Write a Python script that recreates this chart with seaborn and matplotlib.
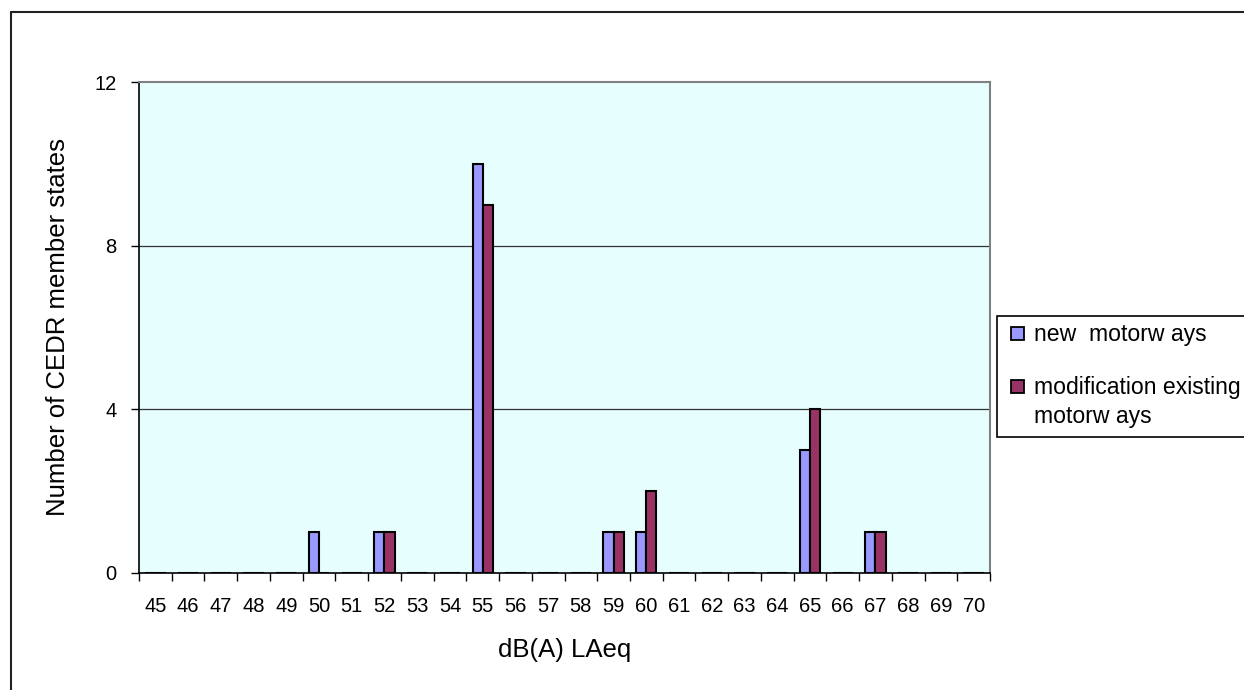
import matplotlib
matplotlib.use("Agg")
import matplotlib.pyplot as plt
import seaborn as sns
import pandas as pd
import numpy as np
from matplotlib.lines import Line2D
from matplotlib.patches import Rectangle

# ---- data ----
categories = [str(v) for v in range(45, 71)]
new_motorways = [0, 0, 0, 0, 0, 1, 0, 1, 0, 0, 10, 0, 0, 0, 1, 1, 0, 0, 0, 0, 3, 0, 1, 0, 0, 0]
modification = [0, 0, 0, 0, 0, 0, 0, 1, 0, 0, 9, 0, 0, 0, 1, 2, 0, 0, 0, 0, 4, 0, 1, 0, 0, 0]
series_names = ["new  motorw ays", "modification existing\nmotorw ays"]
y_ticks = [0, 4, 8, 12]

df = pd.DataFrame({
    "cat": categories * 2,
    "value": new_motorways + modification,
    "series": [series_names[0]] * len(categories) + [series_names[1]] * len(categories),
})

sns.set_style("white")
plt.rcParams["font.family"] = ["Liberation Sans", "DejaVu Sans"]
plt.rcParams["text.color"] = "black"
plt.rcParams["axes.labelcolor"] = "black"
plt.rcParams["xtick.color"] = "black"
plt.rcParams["ytick.color"] = "black"

W, H = 1244, 690
fig = plt.figure(figsize=(W / 100, H / 100), dpi=100)


def fx(px):
    return px / W


def fy(py):
    return 1 - py / H


ax = fig.add_axes([fx(139), fy(573), (990 - 139) / W, (573 - 82) / H])
ax.set_facecolor("#E6FEFE")

palette = {series_names[0]: "#9999FF", series_names[1]: "#993366"}
sns.barplot(data=df, x="cat", y="value", hue="series", order=categories,
            hue_order=series_names, palette=palette, width=0.62, dodge=True,
            edgecolor="black", linewidth=1.5, saturation=1, ax=ax, legend=False,
            zorder=3)

ax.set_xlim(-0.5, len(categories) - 0.5)
ax.set_ylim(0, 12)
ax.set_yticks(y_ticks)
ax.set_yticklabels([str(t) for t in y_ticks])
for t in [4, 8]:
    ax.axhline(t, color="#333333", linewidth=0.9, zorder=1)

# x ticks: labels at centres, tick marks on boundaries
ax.set_xticks(range(len(categories)))
ax.set_xticklabels(categories)
ax.set_xticks(np.arange(-0.5, len(categories), 1.0), minor=True)
ax.tick_params(axis="x", which="major", length=0, pad=17, labelsize=14.5, labelcolor="black")
ax.tick_params(axis="x", which="minor", length=6, width=1, color="black", direction="out", bottom=True)
ax.tick_params(axis="y", which="major", length=6, width=1, color="black", direction="out",
               left=True, pad=10, labelsize=14.5, labelcolor="black")

for s in ["left", "bottom"]:
    ax.spines[s].set_color("black")
    ax.spines[s].set_linewidth(1.2)
    ax.spines[s].set_visible(True)
for s in ["top", "right"]:
    ax.spines[s].set_color("#808080")
    ax.spines[s].set_linewidth(1.5)
    ax.spines[s].set_visible(True)

ax.set_xlabel("dB(A) LAeq", fontsize=18.5, labelpad=16, color="black")
ax.set_ylabel("Number of CEDR member states", fontsize=18.5, labelpad=18, color="black")

# legend (drawn like the original: handle aligned with first line of a wrapped label)
fig.add_artist(Rectangle((fx(997), fy(437)), (1262 - 997) / W, (437 - 316) / H,
                         transform=fig.transFigure, facecolor="white", edgecolor="black",
                         linewidth=1.2, clip_on=False))
leg_rows = [333, 386]
for name, row in zip(series_names, leg_rows):
    fig.add_artist(Rectangle((fx(1011), fy(row + 6.5)), 13 / W, 13 / H,
                             transform=fig.transFigure, facecolor=palette[name],
                             edgecolor="black", linewidth=1.3))
    fig.text(fx(1034), fy(row - 9.5), name, fontsize=16.6, ha="left", va="top",
             linespacing=1.3, color="black")

# outer chart frame
fig.add_artist(Line2D([fx(11), fx(11)], [0, fy(12)], color="#222222", linewidth=1.5))
fig.add_artist(Line2D([fx(11), 1], [fy(12), fy(12)], color="#222222", linewidth=1.5))

fig.savefig("out.png", dpi=100)
